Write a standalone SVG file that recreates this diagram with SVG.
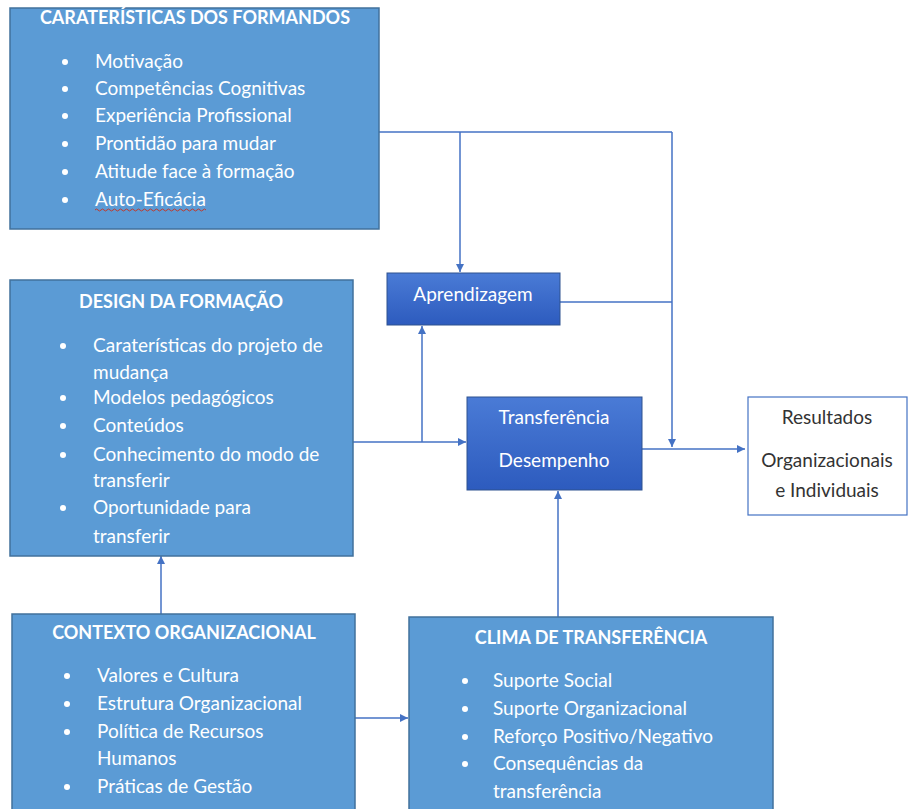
<svg xmlns="http://www.w3.org/2000/svg" width="910" height="809" viewBox="0 0 910 809">
<style>
.box{fill:#5B9BD5;stroke:#41719C;stroke-width:1.5}
.dark{stroke:#2F528F;stroke-width:1}
.t{font-family:Lato,"Liberation Sans",sans-serif;font-size:19px;fill:#FFFFFF}
.h{font-family:Lato,"Liberation Sans",sans-serif;font-size:18px;font-weight:bold;fill:#FFFFFF;text-anchor:middle}
.g{font-family:Lato,"Liberation Sans",sans-serif;font-size:19px;fill:#333333;text-anchor:middle}
.ln{fill:none;stroke:#4472C4;stroke-width:1.5}
</style>
<defs>
<linearGradient id="grad" x1="0" y1="0" x2="0" y2="1">
<stop offset="0" stop-color="#4A7BD6"/>
<stop offset="1" stop-color="#2D5BBE"/>
</linearGradient>
<marker id="arr" viewBox="0 0 10 10" refX="10" refY="5" markerWidth="8" markerHeight="8" markerUnits="userSpaceOnUse" orient="auto">
<path d="M0,0 L10,5 L0,10 z" fill="#4472C4"/>
</marker>
</defs>
<rect width="910" height="809" fill="#FFFFFF"/>

<g id="connectors">
<path class="ln" d="M379,132 H672"/>
<path class="ln" d="M460,132 V272" marker-end="url(#arr)"/>
<path class="ln" d="M672,132 V447" marker-end="url(#arr)"/>
<path class="ln" d="M560,302 H672"/>
<path class="ln" d="M353,442 H466" marker-end="url(#arr)"/>
<path class="ln" d="M422,442 V326" marker-end="url(#arr)"/>
<path class="ln" d="M642,449 H745" marker-end="url(#arr)"/>
<path class="ln" d="M161,614 V556" marker-end="url(#arr)"/>
<path class="ln" d="M355,718 H408" marker-end="url(#arr)"/>
<path class="ln" d="M558,617 V491" marker-end="url(#arr)"/>
</g>

<g id="formandos">
<rect class="box" x="10" y="8" width="369" height="221"/>
<text class="h" x="195" y="24">CARATERÍSTICAS DOS FORMANDOS</text>
<g class="t">
<circle cx="65" cy="62" r="3" fill="#fff"/><text x="95" y="68">Motivação</text>
<circle cx="65" cy="89" r="3" fill="#fff"/><text x="95" y="95">Competências Cognitivas</text>
<circle cx="65" cy="116" r="3" fill="#fff"/><text x="95" y="122">Experiência Profissional</text>
<circle cx="65" cy="144" r="3" fill="#fff"/><text x="95" y="150">Prontidão para mudar</text>
<circle cx="65" cy="172" r="3" fill="#fff"/><text x="95" y="178">Atitude face à formação</text>
<circle cx="65" cy="200" r="3" fill="#fff"/><text x="95" y="206">Auto-Eficácia</text>
</g>
<path d="M95,210 q1.5,-2 3,0 t3,0 t3,0 t3,0 t3,0 t3,0 t3,0 t3,0 t3,0 t3,0 t3,0 t3,0 t3,0 t3,0 t3,0 t3,0 t3,0 t3,0 t3,0 t3,0 t3,0 t3,0 t3,0 t3,0 t3,0 t3,0 t3,0 t3,0 t3,0 t3,0 t3,0 t3,0 t3,0 t3,0 t3,0 t3,0 t3,0" fill="none" stroke="#C0392B" stroke-width="1"/>
</g>

<g id="design">
<rect class="box" x="10" y="280" width="343" height="276"/>
<text class="h" x="181" y="308">DESIGN DA FORMAÇÃO</text>
<g class="t">
<circle cx="63" cy="346" r="3" fill="#fff"/><text x="93" y="352">Caraterísticas do projeto de</text>
<text x="93" y="379">mudança</text>
<circle cx="63" cy="398" r="3" fill="#fff"/><text x="93" y="404">Modelos pedagógicos</text>
<circle cx="63" cy="426" r="3" fill="#fff"/><text x="93" y="432">Conteúdos</text>
<circle cx="63" cy="455" r="3" fill="#fff"/><text x="93" y="461">Conhecimento do modo de</text>
<text x="93" y="487">transferir</text>
<circle cx="63" cy="508" r="3" fill="#fff"/><text x="93" y="514">Oportunidade para</text>
<text x="93" y="543">transferir</text>
</g>
</g>

<g id="contexto">
<rect class="box" x="12" y="614" width="343" height="200"/>
<text class="h" x="184" y="639">CONTEXTO ORGANIZACIONAL</text>
<g class="t">
<circle cx="67" cy="676" r="3" fill="#fff"/><text x="97" y="682">Valores e Cultura</text>
<circle cx="67" cy="704" r="3" fill="#fff"/><text x="97" y="710">Estrutura Organizacional</text>
<circle cx="67" cy="732" r="3" fill="#fff"/><text x="97" y="738">Política de Recursos</text>
<text x="97" y="765">Humanos</text>
<circle cx="67" cy="787" r="3" fill="#fff"/><text x="97" y="793">Práticas de Gestão</text>
</g>
</g>

<g id="clima">
<rect class="box" x="409" y="617" width="364" height="200"/>
<text class="h" x="591" y="644">CLIMA DE TRANSFERÊNCIA</text>
<g class="t">
<circle cx="465" cy="681" r="3" fill="#fff"/><text x="493" y="687">Suporte Social</text>
<circle cx="465" cy="709" r="3" fill="#fff"/><text x="493" y="715">Suporte Organizacional</text>
<circle cx="465" cy="737" r="3" fill="#fff"/><text x="493" y="743">Reforço Positivo/Negativo</text>
<circle cx="465" cy="764" r="3" fill="#fff"/><text x="493" y="770">Consequências da</text>
<text x="493" y="798">transferência</text>
</g>
</g>

<g id="aprendizagem">
<rect x="387" y="273" width="173" height="52" fill="url(#grad)" class="dark"/>
<text class="t" x="473" y="301" style="text-anchor:middle">Aprendizagem</text>
</g>

<g id="transferencia">
<rect x="467" y="397" width="175" height="93" fill="url(#grad)" class="dark"/>
<text class="t" x="554" y="424" style="text-anchor:middle">Transferência</text>
<text class="t" x="554" y="467" style="text-anchor:middle">Desempenho</text>
</g>

<g id="resultados">
<rect x="748" y="397" width="159" height="118" fill="#FFFFFF" stroke="#4472C4" stroke-width="1.2"/>
<text class="g" x="827" y="424">Resultados</text>
<text class="g" x="827" y="467">Organizacionais</text>
<text class="g" x="827" y="497">e Individuais</text>
</g>
</svg>
